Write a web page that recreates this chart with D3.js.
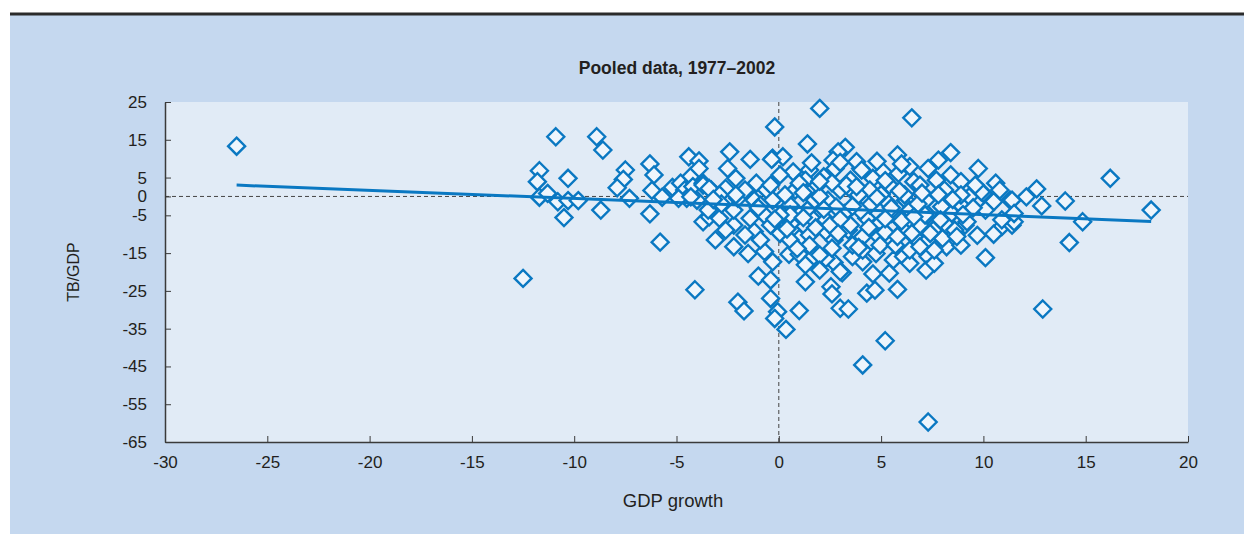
<!DOCTYPE html>
<html>
<head>
<meta charset="utf-8">
<script src="https://cdn.jsdelivr.net/npm/d3@7"></script>
<style>
  body { margin: 0; background: #fff; }
  .axis text { font-family: "Liberation Sans", Arial, sans-serif; font-size: 17px; fill: #231f20; }
  .axis path, .axis line { stroke: #3a3a3a; }
</style>
</head>
<body>
<div class="scatter"></div>
<script>
var totalWidth = 1244;
var totalHeight = 534;

var margin = { top: 102, left: 165, bottom: 92, right: 56 };
var width = totalWidth - margin.left - margin.right;
var height = totalHeight - margin.top - margin.bottom;

// DATA
var xTicks = [-30, -25, -20, -15, -10, -5, 0, 5, 10, 15, 20];
var yTicks = [25, 15, 5, 0, -5, -15, -25, -35, -45, -55, -65];

var trendX = [-26.5, 18.2];
var trendY = [3.0, -6.6];

var growth = [
  -26.5, -12.5, -10.9, -8.9, -8.6, -11.7, -11.8, -10.3, -11.7, -11.3, -10.8, -10.3, -9.8, -10.5, -8.7,
  -7.5, -7.6, -7.9, -7.3, -6.3, -6.1, -6.2, -5.7, -6.3, -5.8, -5.2, -4.4, -3.9, -4.3, -4.8,
  -4.6, -4.2, -3.7, -3.3, -4.5, -4.0, -3.7, -3.4, -2.9, -2.4, -2.5, -2.1, -1.4, -2.2, -2.2,
  -1.5, -1.1, -1.2, -0.7, -0.3, -0.2, -0.3, 0.2, 0.7, 0.06, -4.1, -2.0, -1.7, -1.0, -0.4,
  -0.4, -0.06, -0.2, 0.35, 1.3, 1.0, 2.55, 2.6, 3.0, 3.4, 4.1, 5.2, 4.3, 4.7, 5.8,
  3.1, 4.6, 5.4, 2.7, 0.5, 1.0, 1.7, 0.7, 1.0, 1.5, 10.1, 5.6, 6.1, 6.4, 7.3,
  7.2, 7.6, 8.2, 4.1, 3.6, 2.3, 9.1, 10.9, 11.4, 14.2, 12.9, 7.3, 16.2, 14.85, 18.2,
  14.0, 12.6, 12.85, 12.1, 2.0, 6.5, 1.4, 3.25, 2.9, 5.8, 8.4, 7.8, 7.3, 9.75, 10.6,
  11.5, 11.3, 10.0, 5.1, 6.4, 4.0, 1.5, -0.35, -3.9, -3.7, -3.4, -2.6, -0.6, 1.3, -4.9,
  -4.3, -3.45, -2.2, -1.4, -0.7, 0.6, -2.0, -1.2, -0.3, 1.4, 1.7, 3.8, 2.65, 2.75, 4.05,
  5.85, 4.6, 6.6, 7.7, 8.4, 8.9, 9.9, 10.8, 11.4, 9.3, 10.5, 7.96, 8.9, 7.2, 6.2,
  5.35, 4.3, 3.55, 2.4, 3.2, 4.3, 5.5, 6.4, 7.3, 8.45, 9.2, 10.9, 11.5, 2.3, 4.95,
  2.3, 2.7, 3.4, 3.6, 4.1, 4.9, 4.1, 4.75, 6.1, 6.7, 7.3, 8.0, 7.55, 8.2, 3.0,
  2.0, 0.55, 1.0, 1.75, 0.55, 1.5, 0.8, 1.9, 2.5, 1.3, 2.0, 0.55, 3.5, 4.45, 5.4,
  6.15, 6.9, 8.1, 8.9, 9.6, 3.5, 4.45, 5.9, 6.9, 7.9, 8.6, 10.1, 3.0, 3.9, 4.95,
  5.7, 6.4, 7.6, 8.9, 7.15, -2.9, -1.65, -0.9, -2.6, -1.65, -0.9, -0.4, -3.1, -2.1, -0.4,
  0.06, 0.3, 0.06, 1.0, 2.2, 3.3, 2.8, 5.0, 5.5, 6.8, 7.8, 9.5, 6.0, 4.0, 3.0,
  1.8, 5.2, 6.5, 9.7, 10.5, 1.2, 2.0, 2.6, 3.8, 4.8, 5.9, 7.0, 8.5, 9.0, 6.6,
  5.2, 3.6, 2.2, 1.2, 0.4, 2.9, 4.4, 5.8, 7.4, 8.7, 3.9, 6.9, 2.6, 0.9, -0.2,
  -1.0, -2.8, -3.2, 1.6, 3.0, 4.8, 6.0, 2.0, 5.2
];

var tbGdp = [
  13.3, -21.7, 15.8, 15.8, 12.3, 6.8, 3.9, 4.8, -0.2, 0.8, -1.4, -1.1, -1.1, -5.6, -3.6,
  7.0, 4.5, 2.3, -0.5, 8.6, 5.7, 1.6, -0.2, -4.6, -12.1, 2.4, 10.5, 9.4, 5.3, 3.5,
  1.7, 2.6, 3.5, 1.7, -0.5, -1.0, -6.7, -5.4, -5.8, 11.8, 7.4, 4.8, 9.8, -7.6, -13.3,
  -15.1, 3.5, -9.3, -14.6, -17.3, 18.4, 10.1, 10.5, 6.5, -9.8, -24.7, -28.0, -30.3, -21.1, -22.1,
  -27.0, -30.5, -32.3, -35.2, -22.6, -30.2, -23.9, -25.8, -29.6, -29.8, -44.6, -38.2, -25.6, -24.8, -24.6,
  -20.2, -20.5, -20.3, -17.5, -15.3, -15.3, -15.9, -9.3, -11.1, -10.2, -16.2, -16.8, -15.9, -17.7, -15.9,
  -19.5, -17.7, -13.3, -17.3, -15.9, -16.4, -7.6, -8.0, -7.6, -12.2, -29.8, -59.7, 4.8, -6.7, -3.6,
  -1.2, 2.0, -2.5, -0.1, 23.3, 20.8, 13.9, 13.0, 11.8, 11.0, 11.6, 9.6, 7.4, 7.4, 3.5,
  -6.7, -0.95, 0.8, 6.5, 7.9, 7.4, 7.0, 9.8, 7.4, 3.0, 2.1, 2.1, 1.7, 4.3, -0.5,
  -0.1, -3.6, -3.6, -5.8, -4.9, -7.1, -0.5, -1.0, -1.0, -3.6, -6.2, 9.2, 9.6, 7.4, 7.0,
  6.1, 4.8, 3.9, 4.3, 5.7, 3.9, 1.2, 1.7, -1.0, -0.1, -1.4, -2.7, -2.3, -1.0, -1.0,
  -1.8, -1.0, 1.7, -1.0, -4.5, -5.8, -4.5, -3.6, -4.9, -4.5, -6.7, -6.2, -4.5, -6.2, -7.1,
  -9.3, -11.5, -8.9, -12.9, -10.7, -10.7, -14.2, -15.1, -8.9, -11.1, -11.5, -11.1, -8.9, -7.6, -19.9,
  -15.5, -2.3, -4.9, -1.0, -11.5, -12.9, 1.7, 3.0, -7.6, -18.1, -19.5, -4.9, 4.3, 1.7, 3.0,
  0.4, 3.0, 1.7, 0.4, 3.0, -7.6, -2.3, -6.2, -7.6, -6.2, -8.9, -3.6, 1.7, 0.4, -12.9,
  -12.9, -14.2, -14.2, -12.9, -4.9, 0.4, 1.7, -2.3, -8.9, -10.2, -11.5, -7.6, -11.5, 0.4, 3.0,
  5.7, 0.4, -4.9, 3.5, 5.2, 3.0, -2.8, 0.5, -3.0, -2.0, 0.5, -3.0, -6.5, -3.8, -6.0,
  -8.3, -9.5, -9.8, -10.3, -10.0, 1.0, 0.0, 3.6, 2.6, -0.3, 1.5, 0.9, -0.8, -4.8, -5.4,
  -5.9, -2.6, -3.4, -5.6, -8.6, -9.8, -8.2, -10.6, -9.8, -10.6, -13.5, -13.3, -13.7, -13.8, -6.0,
  -3.0, -2.0, -0.8, 8.9, 9.0, 9.3, 8.6, 4.0, 4.2
];

var points = growth.map(function(g, i) {
  return { x: g, y: tbGdp[i] };
});

// SCALES
var xScale = d3.scaleLinear().domain([-30, 20]).range([0, width]);
var yScale = d3.scaleLinear().domain([-65, 25]).range([height, 0]);

// plain hyphen for negatives, like the original
var plainFormat = function(d) { return String(d); };

var svg = d3
  .select(".scatter")
  .append("svg")
  .attr("width", totalWidth)
  .attr("height", totalHeight);

// panel background + top rule
svg.append("rect")
  .attr("x", 10).attr("y", 14)
  .attr("width", totalWidth - 10).attr("height", totalHeight - 14)
  .attr("fill", "#c5d8ef");

svg.append("line")
  .attr("x1", 10).attr("x2", totalWidth)
  .attr("y1", 14).attr("y2", 14)
  .attr("stroke", "#2b2b2b")
  .attr("stroke-width", 3);

svg.append("text")
  .attr("x", 677).attr("y", 74)
  .attr("text-anchor", "middle")
  .style("font-family", "'Liberation Sans', Arial, sans-serif")
  .style("font-size", "17.5px")
  .style("font-weight", "bold")
  .style("fill", "#231f20")
  .text("Pooled data, 1977\u20132002");

var mainGroup = svg.append("g")
  .attr("transform", "translate(" + margin.left + "," + margin.top + ")");

mainGroup.append("rect")
  .attr("width", width).attr("height", height)
  .attr("fill", "#e1ebf6");

// zero reference lines
mainGroup.append("line")
  .attr("x1", 0).attr("x2", width)
  .attr("y1", yScale(0)).attr("y2", yScale(0))
  .attr("stroke", "#444").attr("stroke-dasharray", "4,3");

mainGroup.append("line")
  .attr("x1", xScale(0)).attr("x2", xScale(0))
  .attr("y1", 0).attr("y2", height)
  .attr("stroke", "#444").attr("stroke-dasharray", "4,3");

// axes, ticks pointing inwards
var xAxis = d3.axisBottom(xScale)
  .tickValues(xTicks)
  .tickFormat(plainFormat)
  .tickSizeInner(-6)
  .tickSizeOuter(0)
  .tickPadding(14);

var yAxis = d3.axisLeft(yScale)
  .tickValues(yTicks)
  .tickFormat(plainFormat)
  .tickSizeInner(-6)
  .tickSizeOuter(0)
  .tickPadding(18);

mainGroup.append("g")
  .attr("class", "axis")
  .attr("transform", "translate(0," + height + ")")
  .call(xAxis)
  .call(function(g) {
    g.select(".domain").attr("stroke-width", 1.5);
  });

mainGroup.append("g")
  .attr("class", "axis")
  .call(yAxis)
  .call(function(g) {
    g.select(".domain").attr("stroke-width", 1.5);
  });

// diamonds
var r = 8.5;
mainGroup.append("g")
  .selectAll("path")
  .data(points)
  .enter()
  .append("path")
  .attr("transform", function(d) {
    return "translate(" + xScale(d.x) + "," + yScale(d.y) + ")";
  })
  .attr("d", "M0," + -r + "L" + r + ",0L0," + r + "L" + -r + ",0Z")
  .attr("fill", "#eef5fc")
  .attr("stroke", "#0a78c2")
  .attr("stroke-width", 2.4)
  .attr("stroke-linejoin", "miter");

// fitted line
mainGroup.append("line")
  .attr("x1", xScale(trendX[0])).attr("y1", yScale(trendY[0]))
  .attr("x2", xScale(trendX[1])).attr("y2", yScale(trendY[1]))
  .attr("stroke", "#0a78c2")
  .attr("stroke-width", 3);

// axis titles
svg.append("text")
  .attr("transform", "translate(79," + (margin.top + yScale(-20)) + ") rotate(-90)")
  .attr("text-anchor", "middle")
  .style("font-family", "'Liberation Sans', Arial, sans-serif")
  .style("font-size", "16px")
  .style("fill", "#231f20")
  .text("TB/GDP");

svg.append("text")
  .attr("x", 673).attr("y", 507)
  .attr("text-anchor", "middle")
  .style("font-family", "'Liberation Sans', Arial, sans-serif")
  .style("font-size", "18.5px")
  .style("fill", "#231f20")
  .text("GDP growth");
</script>
</body>
</html>
